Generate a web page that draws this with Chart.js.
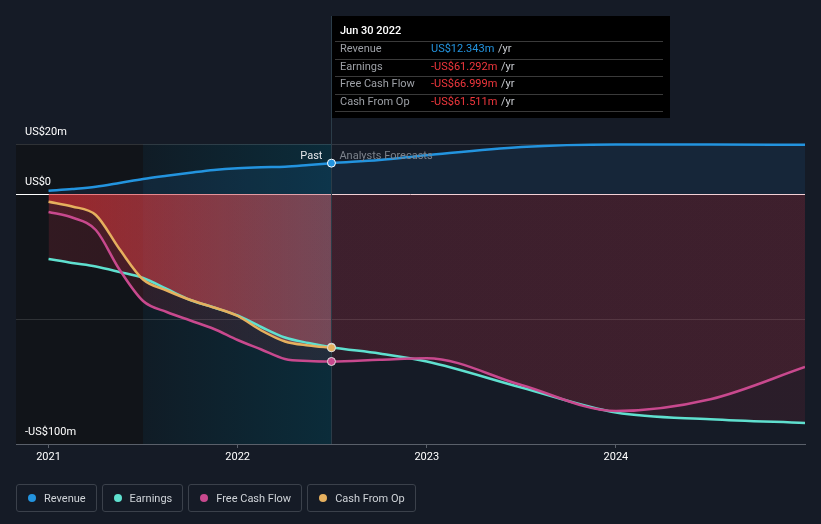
<!DOCTYPE html>
<html>
<head>
<meta charset="utf-8">
<script src="https://cdn.jsdelivr.net/npm/chart.js@4.4.1/dist/chart.umd.min.js"></script>
<style>
  body { margin: 0; background: #151b26; font-family: Roboto, sans-serif; }
  #wrap { position: relative; width: 821px; height: 524px; }
  #legend { position: absolute; left: 16px; top: 484px; display: flex; gap: 5px; }
  .item { height: 26px; border: 1px solid #3b414b; border-radius: 3px; display: flex; align-items: center;
          padding: 0 10px 0 11px; color: #cfd3d8; font-size: 11px; }
  .dot { width: 8px; height: 8px; border-radius: 50%; margin-right: 8px; }
</style>
</head>
<body>
<div id="wrap">
  <canvas id="chart"></canvas>
  <div id="legend"></div>
</div>
<script>
// time axis in decimal years; past ends Jun 30 2022
const years = [2021.0, 2021.125, 2021.25, 2021.375, 2021.5, 2021.625, 2021.75, 2021.875, 2022.0, 2022.125, 2022.25, 2022.375, 2022.496,
               2022.75, 2023.0, 2023.5, 2024.0, 2024.5, 2025.0];
const pastEnd = 2022.496;
const highlightStart = 2021.5;
const tickYears = [2021, 2022, 2023, 2024];
const yTicks = [-100, -50, 0, 20];
const yLabels = ['-US$100m', '', 'US$0', 'US$20m'];

// values in US$m
const revenue  = [1.3, 2.0, 2.9, 4.4, 6.0, 7.3, 8.5, 9.6, 10.3, 10.7, 10.9, 11.6, 12.343, 13.6, 15.5, 18.8, 19.8, 19.8, 19.7];
const earnings = [-26.0, -27.6, -29.0, -31.2, -33.6, -38.0, -42.4, -45.4, -48.6, -53.2, -57.4, -59.6, -61.292, -63.8, -67.0, -77.4, -87.4, -90.1, -91.6];
const fcf      = [-7.2, -9.4, -14.4, -30.2, -42.8, -47.2, -50.6, -54.0, -58.4, -62.2, -66.0, -66.8, -66.999, -66.3, -65.7, -76.4, -86.8, -82.1, -69.2];
const cfo      = [-3.1, -5.0, -8.4, -22.0, -34.2, -38.6, -42.4, -45.4, -48.8, -54.6, -59.0, -60.6, -61.511, null, null, null, null, null, null];

const names  = ['Revenue', 'Earnings', 'Free Cash Flow', 'Cash From Op'];
const colors = ['#2394df', '#5fe0cf', '#c8498e', '#e6b05e'];
const tipValues = ['US$12.343m', '-US$61.292m', '-US$66.999m', '-US$61.511m'];

const pastIdx = years.indexOf(pastEnd);
const toPoints = arr => arr.map((v, i) => ({ x: years[i], y: v })).filter(p => p.y !== null);

function hGradient(left, right) {
  return ctx => {
    const chart = ctx.chart;
    if (!chart.chartArea) return 'rgba(0,0,0,0)';
    const x = chart.scales.x;
    const g = chart.ctx.createLinearGradient(x.getPixelForValue(years[0]), 0, x.getPixelForValue(pastEnd), 0);
    g.addColorStop(0, left);
    g.addColorStop(1, right);
    return g;
  };
}

const pointR = ctx => ctx.dataIndex === pastIdx ? 4 : 0;

const bgPlugin = {
  id: 'bands',
  beforeDraw(chart) {
    const { ctx, chartArea: a, scales: { x } } = chart;
    const x1 = x.getPixelForValue(highlightStart);
    const x2 = x.getPixelForValue(pastEnd);
    ctx.save();
    ctx.fillStyle = '#111419';
    ctx.fillRect(a.left, a.top, x1 - a.left, a.bottom - a.top);
    const g = ctx.createLinearGradient(x1, 0, x2, 0);
    g.addColorStop(0, '#101c26');
    g.addColorStop(1, '#0b2c3a');
    ctx.fillStyle = g;
    ctx.fillRect(x1, a.top, x2 - x1, a.bottom - a.top);
    ctx.restore();
  },
  beforeDatasetsDraw(chart) {
    const { ctx, chartArea: a, scales: { x } } = chart;
    const px = Math.round(x.getPixelForValue(pastEnd)) + 0.5;
    ctx.save();
    ctx.strokeStyle = '#2b3c48';
    ctx.lineWidth = 1;
    ctx.beginPath();
    ctx.moveTo(px, 16);
    ctx.lineTo(px, a.bottom);
    ctx.stroke();
    ctx.restore();
  },
  afterDraw(chart) {
    const { ctx, scales: { x } } = chart;
    const px = x.getPixelForValue(pastEnd);
    ctx.save();
    // past / forecast labels
    ctx.font = '11px Roboto';
    ctx.textBaseline = 'middle';
    ctx.textAlign = 'right';
    ctx.fillStyle = '#e4e6ea';
    ctx.fillText('Past', px - 9, 156);
    ctx.textAlign = 'left';
    ctx.fillStyle = '#7d838c';
    ctx.fillText('Analysts Forecasts', px + 8, 156);

    // tooltip box
    const bx = Math.round(px) + 1, by = 16, bw = 338, bh = 102;
    ctx.fillStyle = '#000';
    ctx.fillRect(bx, by, bw, bh);
    ctx.fillStyle = '#fff';
    ctx.font = '500 11px Roboto';
    ctx.fillText('Jun 30 2022', bx + 8, 31);
    ctx.strokeStyle = '#3a3a3a';
    ctx.lineWidth = 1;
    const seps = [41, 58.5, 76, 93.5, 111];
    seps.forEach(sy => {
      ctx.beginPath();
      ctx.moveTo(bx + 3, Math.round(sy) + 0.5);
      ctx.lineTo(bx + 331, Math.round(sy) + 0.5);
      ctx.stroke();
    });
    ctx.font = '11px Roboto';
    names.forEach((n, i) => {
      const ty = 49.5 + i * 17.5;
      ctx.fillStyle = '#9da0a6';
      ctx.fillText(n, bx + 8, ty);
      const v = tipValues[i];
      ctx.fillStyle = v.startsWith('-') ? '#f0373d' : '#2394df';
      ctx.fillText(v, bx + 99, ty);
      const w = ctx.measureText(v).width;
      ctx.fillStyle = '#c9ccd1';
      ctx.fillText(' /yr', bx + 99 + w + 1, ty);
    });
    ctx.restore();
  }
};

Chart.defaults.font.family = 'Roboto';

new Chart(document.getElementById('chart'), {
  type: 'line',
  data: {
    datasets: [
      {
        label: names[0], data: toPoints(revenue), order: 0,
        borderColor: colors[0], borderWidth: 2.5,
        fill: 'origin', backgroundColor: 'rgba(35,140,230,0.10)',
        pointRadius: pointR, pointBackgroundColor: colors[0], pointBorderColor: '#fff', pointBorderWidth: 1,
        clip: 6
      },
      {
        label: names[1], data: toPoints(earnings), order: 3,
        borderColor: colors[1], borderWidth: 2.5,
        fill: 'origin', backgroundColor: hGradient('rgba(200,50,70,0.18)', 'rgba(200,50,70,0.12)'),
        pointRadius: pointR, pointBackgroundColor: colors[1], pointBorderColor: '#ddd', pointBorderWidth: 1
      },
      {
        label: names[2], data: toPoints(fcf), order: 2,
        borderColor: colors[2], borderWidth: 2.5,
        fill: 'origin', backgroundColor: hGradient('rgba(200,50,70,0.18)', 'rgba(200,50,70,0.12)'),
        pointRadius: pointR, pointBackgroundColor: colors[2], pointBorderColor: '#ddd', pointBorderWidth: 1
      },
      {
        label: names[3], data: toPoints(cfo), order: 1,
        borderColor: colors[3], borderWidth: 2.5,
        fill: 'origin', backgroundColor: hGradient('rgba(230,45,45,0.5)', 'rgba(200,110,125,0.42)'),
        pointRadius: pointR, pointBackgroundColor: colors[3], pointBorderColor: '#ddd', pointBorderWidth: 1
      }
    ]
  },
  options: {
    responsive: true,
    maintainAspectRatio: false,
    animation: false,
    events: [],
    cubicInterpolationMode: 'monotone',
    layout: { padding: { left: 16, right: 16, top: 144, bottom: 0 } },
    plugins: {
      legend: { display: false },
      tooltip: { enabled: false },
      filler: { drawTime: 'beforeDatasetsDraw' }
    },
    scales: {
      x: {
        type: 'linear',
        min: 2020.828,
        max: 2025.0,
        afterBuildTicks: s => { s.ticks = tickYears.map(v => ({ value: v })); },
        afterFit: s => { s.height = 80; },
        grid: { drawOnChartArea: false, drawTicks: true, tickLength: 4, color: '#5a606a' },
        border: { display: true, color: '#5a606a' },
        ticks: { color: '#fff', font: { size: 11 }, padding: 3, maxRotation: 0, autoSkip: false, callback: v => String(v) }
      },
      y: {
        min: -100,
        max: 20,
        afterBuildTicks: s => { s.ticks = yTicks.map(v => ({ value: v })); },
        afterFit: s => { s.width = 0; },
        grid: {
          drawTicks: false,
          color: ctx => ctx.tick && ctx.tick.value === 0 ? '#ffffff' : 'rgba(255,255,255,0.13)'
        },
        border: { display: false },
        ticks: {
          mirror: true, padding: 9, labelOffset: -12, color: '#fff', font: { size: 11 },
          callback: v => yLabels[yTicks.indexOf(v)]
        }
      }
    }
  },
  plugins: [bgPlugin]
});

// legend
const legend = document.getElementById('legend');
names.forEach((n, i) => {
  const item = document.createElement('div');
  item.className = 'item';
  item.innerHTML = '<span class="dot" style="background:' + colors[i] + '"></span>' + n;
  legend.appendChild(item);
});
</script>
</body>
</html>
